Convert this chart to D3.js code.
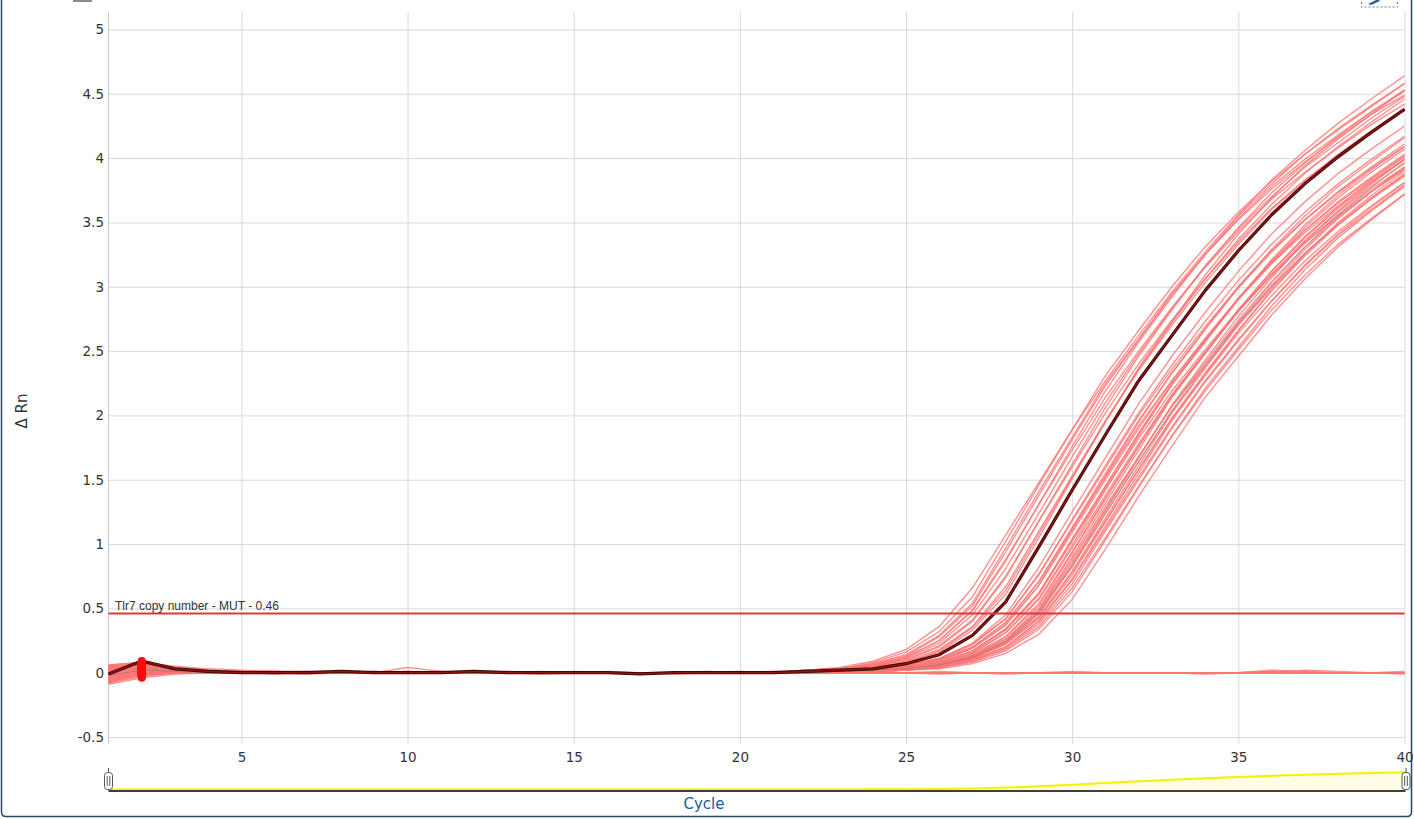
<!DOCTYPE html>
<html>
<head>
<meta charset="utf-8">
<script src="https://cdn.jsdelivr.net/npm/d3@7"></script>
<style>
html,body{margin:0;padding:0;background:#fff;overflow:hidden;}
svg{display:block;}
</style>
</head>
<body>
<svg id="chart" width="1414" height="819"></svg>
<script>
// ---------------- data ----------------
const cycles = [1,2,3,4,5,6,7,8,9,10,11,12,13,14,15,16,17,18,19,20,21,22,23,24,25,26,27,28,29,30,31,32,33,34,35,36,37,38,39,40];
const xTicks = [5,10,15,20,25,30,35,40];
const yTicks = [-0.5,0,0.5,1,1.5,2,2.5,3,3.5,4,4.5,5];
const thresholdValue = 0.46;
const thresholdLabel = "Tlr7 copy number - MUT - 0.46";
const xTitle = "Cycle";
const yTitle = "\u0394 Rn";

// selected (highlighted) well
const highlightCurve = [-0.01,0.09,0.03,0.01,0,0,0,0.01,0,0,0,0.01,0,0,0,0,-0.01,0,0,0,0,0.01,0.02,0.03,0.07,0.14,0.29,0.55,0.98,1.42,1.85,2.27,2.62,2.97,3.28,3.56,3.80,4.01,4.20,4.38];

// faint grey trace inside the late group
const grayCurve = [-0.02,0.02,0.01,0,0,0,0,0,0,0,0,0,0,0,0,0,0,0,0,0,0,0,0.01,0.02,0.03,0.06,0.12,0.24,0.46,0.82,1.23,1.64,2.04,2.39,2.72,3.03,3.31,3.56,3.77,3.97];

// early-amplifying wells
const earlyCurves = [
[-0.08,0.02,0.02,0.01,0,0,0.01,0,0,0.01,0,0,0,0,0,0,0,0,0,0,0,0.02,0.04,0.09,0.18,0.36,0.66,1.07,1.48,1.89,2.27,2.62,2.96,3.27,3.56,3.83,4.06,4.27,4.46,4.64],
[0.02,0.05,0.04,0.02,0.01,0.01,0.01,0,0,0,0,0,0,0.01,0,0,0,0,0,0.01,0,0.02,0.03,0.08,0.16,0.32,0.59,1.02,1.46,1.89,2.31,2.66,3.00,3.31,3.58,3.82,4.03,4.22,4.40,4.58],
[-0.03,-0.02,0.01,0,0,0,0,0.01,0,0,0.01,0,0,0,0,0,0,0,0,0,0,0.02,0.03,0.07,0.14,0.29,0.54,0.97,1.41,1.83,2.25,2.59,2.94,3.25,3.52,3.76,3.97,4.16,4.34,4.49],
[0.06,0.08,0.05,0.03,0.02,0.01,0.01,0.01,0,0.04,0.01,0,0,0,0,0,0,0,0,0,0,0.02,0.03,0.07,0.13,0.28,0.52,0.94,1.38,1.81,2.23,2.59,2.94,3.25,3.53,3.78,3.99,4.18,4.36,4.52],
[-0.06,0,0.02,0.01,0,-0.01,0,0,0,0,0,0,0,0,0,0,0,0,0,0,0,0.02,0.03,0.06,0.12,0.25,0.49,0.88,1.31,1.73,2.14,2.50,2.84,3.15,3.43,3.68,3.89,4.08,4.26,4.42],
[0.05,0.07,0.03,0.01,0.01,0,0,0,0.01,0,0,0,0,0,0,0,-0.01,0,0,0,0,0.02,0.03,0.06,0.12,0.25,0.48,0.87,1.31,1.76,2.19,2.57,2.92,3.25,3.55,3.80,4.03,4.23,4.41,4.58],
[-0.01,0.03,0,0,0,0,0,0,0,0,0,0,0.01,0,0,0,0,0,0,0,0,0.02,0.03,0.05,0.11,0.23,0.45,0.81,1.24,1.68,2.10,2.48,2.83,3.16,3.45,3.70,3.93,4.12,4.31,4.48],
[-0.09,-0.04,-0.01,0,0,0,0,0,0,0,0,0,0,0,0,0,0,0,0,0,0.01,0.01,0.02,0.05,0.10,0.21,0.41,0.75,1.18,1.60,2.02,2.40,2.74,3.06,3.35,3.61,3.83,4.02,4.20,4.37],
[0.03,0.06,0.02,0.01,0,0,0,0,0.01,0,0,0,0,0,0,0.01,0,0,0,0,0,0.01,0.02,0.05,0.10,0.20,0.40,0.74,1.18,1.62,2.06,2.46,2.82,3.16,3.46,3.73,3.96,4.17,4.36,4.53],
[0,0.04,0.03,0.01,0.01,0,0,0,0,0,0,0.01,0,0,0,0,0,0,0,0,0,0.01,0.02,0.04,0.09,0.18,0.36,0.67,1.10,1.53,1.96,2.35,2.70,3.03,3.33,3.60,3.82,4.03,4.21,4.38],
[-0.04,0.01,0.01,0,0,0,0,0,0,0.01,0,0,0,0,0,0,0,0,0,0,0,0.01,0.02,0.04,0.08,0.17,0.35,0.64,1.08,1.52,1.95,2.36,2.72,3.06,3.37,3.64,3.88,4.09,4.28,4.46],
[0.04,0.06,0.03,0.02,0.01,0.01,0,0,0,0,0,0,0,0,0,0,0,0,0.01,0,0,0.01,0.02,0.04,0.08,0.16,0.33,0.61,1.05,1.51,1.95,2.37,2.73,3.09,3.41,3.69,3.94,4.15,4.34,4.53]
];

// later-amplifying wells (main group)
const lateCurves = [
[-0.07,0.01,0.02,0.01,0,0,0,0,0,0,0,0,0,0,0.01,0,0,0,0,0,0,0.01,0.02,0.03,0.06,0.11,0.23,0.45,0.82,1.25,1.67,2.09,2.46,2.80,3.12,3.41,3.66,3.88,4.07,4.25],
[0.03,0.05,0.02,0.01,0,0,0,0.01,0,0,0,0,0,0,0,0,0,0,0,0,0,0.01,0.02,0.03,0.05,0.11,0.22,0.42,0.77,1.18,1.59,2.00,2.36,2.69,3.00,3.28,3.52,3.73,3.92,4.09],
[-0.02,0.02,0.01,0,0,0,0,0,0,0,0.01,0,0,0,0,0,0,0,0,0,0,0.01,0.02,0.03,0.05,0.11,0.22,0.42,0.76,1.19,1.61,2.02,2.39,2.73,3.05,3.33,3.58,3.80,3.99,4.17],
[0.05,0.07,0.04,0.02,0.01,0.01,0,0,0,0,0,0,0,0,0,0,0,-0.01,0,0,0,0.01,0.01,0.02,0.05,0.10,0.20,0.39,0.71,1.12,1.52,1.92,2.27,2.60,2.91,3.18,3.42,3.63,3.82,3.99],
[-0.05,-0.01,0.01,0,0,0,0,0,0,0,0,0,0,0,0,0,0,0,0,0,0,0.01,0.01,0.02,0.05,0.10,0.20,0.39,0.71,1.13,1.55,1.96,2.33,2.67,2.99,3.27,3.52,3.74,3.93,4.11],
[0.01,0.04,0.02,0.01,0,0,0,0,0,0,0,0,0.01,0,0,0,0,0,0,0,0,0.01,0.01,0.02,0.04,0.09,0.19,0.37,0.68,1.09,1.50,1.90,2.27,2.59,2.91,3.19,3.44,3.65,3.84,4.02],
[-0.08,-0.03,0,0,0,0,0,0,0,0,0,0,0,0,0,0,0,0,0,0,0,0.01,0.01,0.02,0.04,0.09,0.19,0.37,0.68,1.11,1.53,1.95,2.33,2.67,3.00,3.29,3.55,3.78,3.97,4.16],
[0.04,0.06,0.03,0.01,0.01,0,0,0,0,0.01,0,0,0,0,0,0,0,0,0,0,0,0.01,0.01,0.02,0.04,0.08,0.17,0.34,0.62,1.02,1.43,1.82,2.19,2.51,2.82,3.09,3.34,3.55,3.74,3.91],
[-0.03,0.01,0.01,0,0,0,0,0,0,0,0,0,0,0,0,0,0,0,0,0.01,0,0.01,0.01,0.02,0.04,0.08,0.17,0.34,0.62,1.04,1.45,1.86,2.24,2.57,2.90,3.18,3.44,3.66,3.85,4.03],
[0.02,0.05,0.03,0.01,0,0,0,0,0,0,0,0,0,0,0,0,0,0,0,0,0,0.01,0.01,0.02,0.04,0.08,0.16,0.33,0.61,1.03,1.45,1.86,2.25,2.58,2.91,3.20,3.46,3.69,3.89,4.07],
[-0.06,-0.01,0.01,0,0,0,0,0,0,0,0,0,0,0,0,0,0,0,0,0,0,0.01,0.01,0.02,0.03,0.07,0.15,0.31,0.57,0.97,1.38,1.78,2.16,2.49,2.81,3.09,3.34,3.56,3.76,3.93],
[0.06,0.08,0.04,0.02,0.01,0,0,0,0,0,0,0,0,0,0,0,0,0,0,0,0,0.01,0.01,0.02,0.03,0.07,0.15,0.31,0.58,0.99,1.42,1.84,2.24,2.58,2.91,3.21,3.48,3.71,3.91,4.09],
[-0.01,0.02,0.01,0,0,0,0,0,0,0,0,0,0,0,0,0,0,0,0,0,0,0.01,0.01,0.02,0.03,0.07,0.14,0.28,0.54,0.94,1.36,1.76,2.15,2.48,2.81,3.10,3.36,3.58,3.78,3.96],
[0.03,0.04,0.02,0.01,0,0,0,0,0,0,0,0,0,0,0,0,0,0,0,0,0,0.01,0.01,0.02,0.03,0.07,0.13,0.28,0.52,0.93,1.35,1.76,2.16,2.49,2.82,3.12,3.38,3.61,3.81,3.99],
[-0.04,0,0.01,0,0,0,0,0,0,0,0,0,0,0,0,0,0,0,0,0,0,0,0.01,0.02,0.03,0.06,0.13,0.26,0.49,0.88,1.29,1.68,2.07,2.39,2.72,3.00,3.26,3.48,3.68,3.86],
[0.05,0.06,0.03,0.01,0.01,0,0,0,0,0,0,0,0,0,0,0,0,0,0,0,0,0,0.01,0.02,0.03,0.06,0.13,0.26,0.50,0.90,1.32,1.73,2.14,2.48,2.82,3.12,3.39,3.62,3.83,4.01],
[-0.07,-0.02,0,0,0,0,0,0,0,0,0,0,0,0,0,0,0,0,0,0,0,0,0.01,0.02,0.03,0.06,0.12,0.25,0.48,0.86,1.27,1.68,2.07,2.41,2.74,3.04,3.31,3.54,3.74,3.92],
[0.01,0.03,0.02,0.01,0,0,0,0,0,0,0,0,0,0,0,0,0,0,0,0,0,0,0.01,0.02,0.03,0.06,0.12,0.24,0.46,0.83,1.24,1.64,2.03,2.37,2.70,2.99,3.26,3.49,3.69,3.87],
[-0.02,0.01,0.01,0,0,0,0,0,0,0,0,0,0,0,0,0,0,0,0,0,0,0,0.01,0.02,0.03,0.06,0.12,0.24,0.47,0.84,1.26,1.67,2.08,2.43,2.77,3.07,3.35,3.59,3.80,3.99],
[0.04,0.05,0.03,0.01,0,0,0,0,0,0,0,0,0,0,0,0,0,0,0,0,0,0,0.01,0.02,0.02,0.05,0.11,0.23,0.43,0.78,1.18,1.58,1.97,2.31,2.64,2.93,3.20,3.43,3.63,3.81],
[-0.05,-0.02,0,0,0,0,0,0,0,0,0,0,0,0,0,0,0,0,0,0,0,0,0.01,0.02,0.03,0.05,0.11,0.23,0.44,0.79,1.20,1.61,2.02,2.37,2.71,3.01,3.29,3.53,3.74,3.93],
[0.02,0.04,0.02,0.01,0,0,0,0,0,0,0,0,0,0,0,0,0,0,0,0,0,0,0.01,0.02,0.02,0.05,0.11,0.22,0.42,0.76,1.17,1.58,1.98,2.33,2.66,2.97,3.24,3.48,3.69,3.88],
[-0.03,0,0.01,0,0,0,0,0,0,0,0,0,0,0,0,0,0,0,0,0,0,0,0.01,0.01,0.02,0.05,0.10,0.20,0.40,0.72,1.12,1.52,1.91,2.27,2.59,2.89,3.16,3.40,3.60,3.79],
[0.03,0.06,0.03,0.01,0,0,0,0,0,0,0,0,0,0,0,0,0,0,0,0,0,0,0.01,0.01,0.02,0.05,0.10,0.20,0.40,0.73,1.14,1.55,1.96,2.32,2.66,2.97,3.25,3.50,3.71,3.90],
[-0.06,-0.01,0.01,0,0,0,0,0,0,0,0,0,0,0,0,0,0,0,0,0,0,0,0.01,0.01,0.02,0.04,0.09,0.19,0.38,0.69,1.10,1.50,1.90,2.26,2.58,2.89,3.17,3.41,3.62,3.81],
[0,0.03,0.02,0.01,0,0,0,0,0,0,0,0,0,0,0,0,0,0,0,0,0,0,0.01,0.01,0.02,0.04,0.09,0.18,0.36,0.66,1.05,1.45,1.84,2.19,2.51,2.82,3.09,3.33,3.53,3.72],
[-0.04,0.02,0.01,0,0,0,0,0,0,0,0,0,0,0,0,0,0,0,0,0,0,0,0.01,0.01,0.02,0.04,0.08,0.17,0.34,0.63,1.03,1.44,1.84,2.21,2.53,2.85,3.13,3.38,3.59,3.78],
[0.02,0.05,0.02,0.01,0,0,0,0,0,0,0,0,0,0,0,0,0,0,0,0,0,0,0.01,0.01,0.02,0.03,0.07,0.15,0.30,0.57,0.96,1.37,1.76,2.14,2.46,2.78,3.06,3.31,3.52,3.72]
];

// non-amplifying wells
const flatCurves = [
[-0.05,0.02,0.01,0,0,0.01,0,0,0,0.01,0,0,0,-0.01,0,0,0,0,0,0,0,0,0,0,0,0.01,0,0,0,0,0,0,0,0,0,0.01,0.01,0,0,0],
[0.04,0.05,0.02,0.01,0,0,0,0,0,0,0,0,0,0,0,0,0,0,0.01,0,0,0,0,0,0,0,0,0,0,0,0,0,0,0,0,0.02,0.01,0,0,0],
[-0.02,0.01,0,0,0,0,0,0,0,0,0.01,0,0,0,0,0,0,0,0,0,0,0,0,0.01,0,0,0,0,0,0.01,0,0,0,0,0,0,0,0,0,0],
[0.01,0.04,0.02,0,0,0,0,0,0,0,0,0,0,0,0,0,0,0,0,0,0,0,0,0,0,-0.01,0,0,0,0,0,0,0,0,0,0,0.02,0.01,0,0],
[-0.07,-0.02,0,0,0,0,0,0,0,0,0,0,0,0,0,0,0,0,0,0,0,0,0,0,0,0,0,0,0,0,0,0,0,0,0,0,0,0,0,0.01],
[0.05,0.06,0.03,0.01,0,0,0,0,0,0,0,0,0,0,0,0,0,0,0,0,0,0,0,0,0,0,0,-0.01,0,0,0,0,0,0,0,0.01,0,0,0,0],
[-0.03,0,0.01,0,0,0,-0.01,0,0,0,0,0,0,0,0,0,0,0,0,0,0,0,0,0,0,0,0,0,0,0,0,0,0,-0.01,0,0,0,0,0,0],
[0.02,0.03,0.01,0,0,0,0,0,0,0,0,0,0,0,0,0,0,0,0,0,0.01,0,0,0,0,0,0,0,0,0,0,0,0,0,0,0,0,0,0,-0.01]
];

// ---------------- drawing ----------------
const svg = d3.select('#chart');
const plotTop = 12, plotBottom = 744;
const x = d3.scaleLinear().domain([1, 40]).range([108.5, 1404.5]);
const y = d3.scaleLinear().domain([-0.5, 5]).range([737, 29.5]);
const tickFont = "'DejaVu Sans', Verdana, sans-serif";
const curveColor = '#ff7474';

// outer frame
svg.append('path')
  .attr('d', `M1.5,-5 L1.5,812 Q1.5,816.5 6,816.5 L1407,816.5 Q1411.5,816.5 1411.5,812 L1411.5,-5`)
  .attr('fill', 'none').attr('stroke', '#1f4e6b').attr('stroke-width', 1.5);

// top toolbar remnants
svg.append('rect').attr('x', 73).attr('y', -4).attr('width', 19).attr('height', 6).attr('fill', '#8c8c8c');
svg.append('rect').attr('x', 1361.5).attr('y', -10).attr('width', 36).attr('height', 17)
  .attr('fill', 'none').attr('stroke', '#777').attr('stroke-dasharray', '2,2');
svg.append('path').attr('d', 'M1368,4 L1378,-1 L1380,1 L1371,5 Z').attr('fill', '#2f5f8f');

// vertical grid
svg.append('g')
  .attr('transform', `translate(0,${plotBottom})`)
  .call(d3.axisBottom(x).tickValues(xTicks).tickSize(-(plotBottom - plotTop)).tickFormat(''))
  .call(g => g.select('.domain').remove())
  .call(g => g.selectAll('line').attr('stroke', '#d9d9d9').attr('stroke-width', 1));

// horizontal grid
svg.append('g')
  .attr('transform', `translate(${x(1)},0)`)
  .call(d3.axisLeft(y).tickValues(yTicks).tickSize(-(x(40) - x(1))).tickFormat(''))
  .call(g => g.select('.domain').remove())
  .call(g => g.selectAll('line').attr('stroke', '#d9d9d9').attr('stroke-width', 1));

// left axis line
svg.append('line').attr('x1', x(1)).attr('x2', x(1)).attr('y1', plotTop).attr('y2', plotBottom)
  .attr('stroke', '#c8c8c8');

// y tick labels
svg.append('g')
  .attr('transform', `translate(${x(1)},0)`)
  .call(d3.axisLeft(y).tickValues(yTicks).tickSize(0).tickPadding(4.5).tickFormat(d => String(d)))
  .call(g => g.select('.domain').remove())
  .call(g => g.selectAll('text').attr('font-family', tickFont).attr('font-size', 13.5).attr('fill', '#333'));

// x tick labels
svg.append('g')
  .attr('transform', `translate(0,${plotBottom})`)
  .call(d3.axisBottom(x).tickValues(xTicks).tickSize(0).tickPadding(8).tickFormat(d => String(d)))
  .call(g => g.select('.domain').remove())
  .call(g => g.selectAll('text').attr('font-family', tickFont).attr('font-size', 13.5).attr('fill', '#333'));

// y title
svg.append('text')
  .attr('transform', 'translate(27,411) rotate(-90)')
  .attr('text-anchor', 'middle')
  .attr('font-family', tickFont).attr('font-size', 15).attr('fill', '#333')
  .text(yTitle);

// curves
const line = d3.line().x((d, i) => x(cycles[i])).y(d => y(d));
const plot = svg.append('g');

plot.selectAll('path.flat').data(flatCurves).join('path').attr('class', 'flat')
  .attr('d', line).attr('fill', 'none').attr('stroke', curveColor).attr('stroke-opacity', 0.8).attr('stroke-width', 1.4);
plot.selectAll('path.late').data(lateCurves).join('path').attr('class', 'late')
  .attr('d', line).attr('fill', 'none').attr('stroke', curveColor).attr('stroke-opacity', 0.8).attr('stroke-width', 1.4);
plot.selectAll('path.early').data(earlyCurves).join('path').attr('class', 'early')
  .attr('d', line).attr('fill', 'none').attr('stroke', curveColor).attr('stroke-opacity', 0.8).attr('stroke-width', 1.4);
plot.append('path').datum(grayCurve).attr('d', line).attr('fill', 'none')
  .attr('stroke', '#8e7a7a').attr('stroke-opacity', 0.7).attr('stroke-width', 1);

// threshold
svg.append('line').attr('x1', x(1)).attr('x2', x(40)).attr('y1', y(thresholdValue)).attr('y2', y(thresholdValue))
  .attr('stroke', '#dc3a3a').attr('stroke-width', 2);
svg.append('text').attr('x', x(1) + 6.5).attr('y', y(thresholdValue) - 4)
  .attr('font-family', "'Liberation Sans', Arial, sans-serif").attr('font-size', 12).attr('fill', '#333')
  .text(thresholdLabel);

// highlighted curve
plot.append('path').datum(highlightCurve).attr('d', line).attr('fill', 'none')
  .attr('stroke', '#3a0505').attr('stroke-width', 3.2).attr('stroke-linejoin', 'round');
plot.append('path').datum(highlightCurve).attr('d', line).attr('fill', 'none')
  .attr('stroke', '#8e1414').attr('stroke-width', 1.5).attr('stroke-linejoin', 'round');

// selected points at cycle 2
const allCurves = [].concat(flatCurves, lateCurves, earlyCurves, [grayCurve, highlightCurve]);
svg.append('g').selectAll('circle').data(allCurves).join('circle')
  .attr('cx', x(cycles[1])).attr('cy', d => y(d[1])).attr('r', 4).attr('fill', '#ff0a0a');

// ---------------- overview slider ----------------
const ampCurves = [].concat(earlyCurves, lateCurves);
const meanCurve = cycles.map((c, i) => d3.mean(ampCurves, d => d[i]));
const ys = d3.scaleLinear().domain([0, 4.15]).range([789.5, 772]);
const sliderBase = 791;
svg.append('path').datum(meanCurve)
  .attr('d', d3.area().x((d, i) => x(cycles[i])).y0(sliderBase).y1(d => ys(Math.max(0, d))))
  .attr('fill', '#fffde3');
svg.append('path').datum(meanCurve)
  .attr('d', d3.line().x((d, i) => x(cycles[i])).y(d => ys(Math.max(0, d))))
  .attr('fill', 'none').attr('stroke', '#f2f200').attr('stroke-width', 2);
svg.append('line').attr('x1', x(1)).attr('x2', x(40) + 1).attr('y1', sliderBase).attr('y2', sliderBase)
  .attr('stroke', '#3f3f33').attr('stroke-width', 2);
[x(1), x(40) + 1.5].forEach(hx => {
  svg.append('line').attr('x1', hx).attr('x2', hx).attr('y1', 768).attr('y2', 790).attr('stroke', '#555');
  svg.append('rect').attr('x', hx - 4).attr('y', 772.5).attr('width', 8).attr('height', 17).attr('rx', 3)
    .attr('fill', '#fff').attr('stroke', '#555').attr('stroke-width', 1);
  svg.append('line').attr('x1', hx - 1.3).attr('x2', hx - 1.3).attr('y1', 776).attr('y2', 786).attr('stroke', '#555');
  svg.append('line').attr('x1', hx + 1.3).attr('x2', hx + 1.3).attr('y1', 776).attr('y2', 786).attr('stroke', '#555');
});

// x title
svg.append('text').attr('x', 704).attr('y', 809)
  .attr('text-anchor', 'middle')
  .attr('font-family', tickFont).attr('font-size', 15).attr('fill', '#1e5a96')
  .text(xTitle);
</script>
</body>
</html>
